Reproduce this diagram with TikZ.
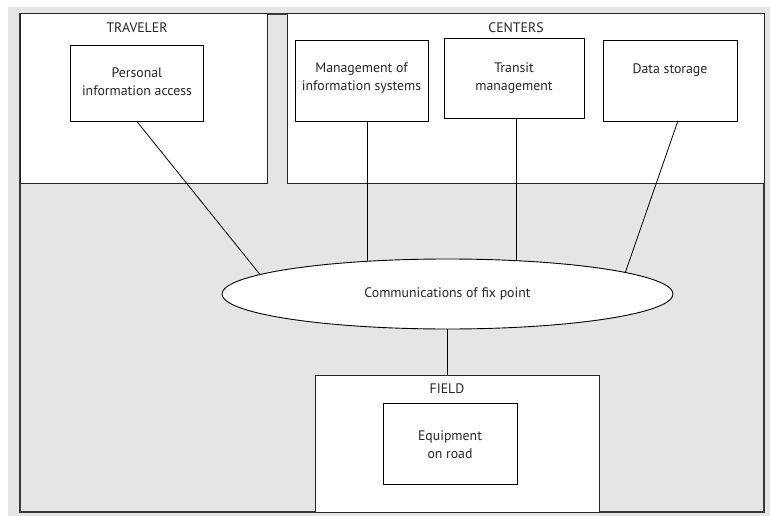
\documentclass[tikz,border=0pt]{standalone}
\usepackage{fontspec}
\setmainfont{PT Sans}
\usetikzlibrary{shapes.geometric}
\definecolor{backdrop}{gray}{0.9}
\definecolor{rim}{gray}{0.22}

\begin{document}
\begin{tikzpicture}[x=1pt,y=-1pt,font=\fontsize{13.8}{18}\selectfont,
	panel/.style={draw=black!85,fill=white,line width=1pt,anchor=north west,inner sep=0pt,outer sep=0pt},
	unit/.style={draw=black,fill=white,line width=.9pt,anchor=north west,inner sep=0pt,outer sep=0pt},
	caption/.style={align=center,inner sep=0pt,text=black!85}]
	\useasboundingbox (0,0) rectangle (770,516);
	% draw backdrop
	\fill[backdrop] (8,7) rectangle (770,516);
	\node[panel,fill=backdrop,draw=rim,line width=1.6pt,minimum width=744,minimum height=498] (frame) at (20,14) {};
	
	% draw panels
	\node[panel,minimum width=247,minimum height=169] (traveler) at (20,14) {};
	\node[panel,minimum width=477,minimum height=169] (centers) at (287,14) {};
	\node[panel,minimum width=284,minimum height=137] (field) at (315,375) {};
	\node[caption] (traveler-t) at (137,28) {TRAVELER};
	\node[caption] (centers-t) at (516,28) {CENTERS};
	\node[caption] (field-t) at (447,389) {FIELD};
	
	% draw units
	\node[unit,minimum width=133,minimum height=76] (pia) at (70,45) {};
	\node[unit,minimum width=133,minimum height=81] (mis) at (295,40) {};
	\node[unit,minimum width=140,minimum height=80] (tm) at (444,38) {};
	\node[unit,minimum width=134,minimum height=81] (ds) at (603,40) {};
	\node[unit,minimum width=134,minimum height=81] (eq) at (383,403) {};
	\node[caption] (pia-t) at (137,82) {Personal\\information access};
	\node[caption] (mis-t) at (361.5,78.5) {Management of\\information systems};
	\node[caption] (tm-t) at (514,78) {Transit\\management};
	\node[caption] (ds-t) at (670,70) {Data storage};
	\node[caption] (eq-t) at (450,444.5) {Equipment\\on road};
	
	% draw hub
	\node[ellipse,draw=black,fill=white,line width=.9pt,minimum width=451,minimum height=70,inner sep=0pt,text=black!85] (comm) at (447.5,294) {Communications of fix point};
	
	% draw links
	\draw[line width=.8pt] (pia.south) -- (comm.174.6);
	\draw[line width=.8pt] (mis.-82) -- (mis.-82 |- comm.158);
	\draw[line width=.8pt] (tm.-86) -- (tm.-86 |- comm.25);
	\draw[line width=.8pt] (ds.-79) -- (comm.7);
	\draw[line width=.8pt] (comm.south) -- (comm.south |- field.north);
\end{tikzpicture}
\end{document}
